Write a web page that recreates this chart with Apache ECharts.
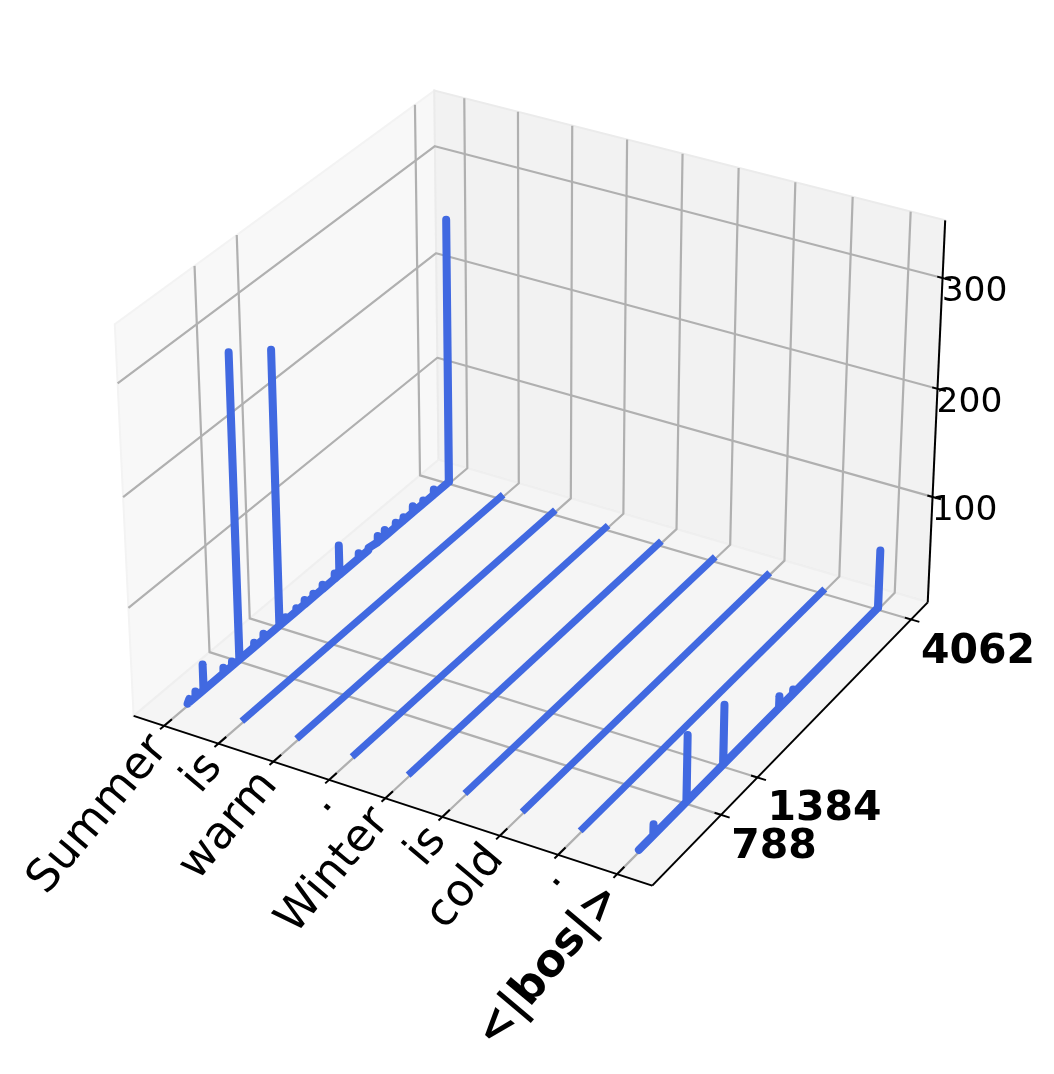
<!DOCTYPE html>
<html>
<head>
<meta charset="utf-8">
<style>html,body{margin:0;padding:0;background:#fff}#c{width:1054px;height:1074px}</style>
<script src="https://cdn.jsdelivr.net/npm/echarts@6/dist/echarts.min.js"></script>
</head>
<body>
<div id="c"></div>
<script>
// ---- data ----
const tokens = ['Summer','is','warm','.','Winter','is','cold','.','<|bos|>'];
const boldTokens = [8];
const yTicks = [788, 1384, 4062];
const zTicks = [100, 200, 300];
const baseZ = 2;
const yStart = 35, yEnd = 4062, yEndFlat = 4105;
const peaksSummer = [[60,5],[150,7],[265,26],[555,7],[680,6],[788,283],[1007,6],[1146,7],[1384,257],[1478,5],[1640,5],[1767,6],[1900,5],[2043,6],[2230,7],[2303,30],[2606,7],[2760,4],[2907,8],[3019,8],[3195,6],[3320,5],[3471,8],[3640,5],[3814,7],[4062,252.5]];
const peaksBos = [[262,12],[788,63],[1384,57],[2320,13],[2559,6],[4062,56.5]];
const peaksByRow = [peaksSummer,[],[],[],[],[],[],[],peaksBos];

// ---- axes limits of the 3D box ----
const xLim = [-0.564, 8.59], yLim = [-302, 4369], zLim = [0, 351];

// ---- view (elev 30, azim -60, box aspect 4:4:3, distance 10) ----
const A = 0.5953, C = 0.4464, DIST = 10;
const U = [0.8660254, 0.5, 0], V = [-0.25, 0.4330127, 0.8660254], N = [0.4330127, -0.75, 0.5];
function proj(x, y, z) {
  const bx = -A + 2*A*(x-xLim[0])/(xLim[1]-xLim[0]);
  const by = -A + 2*A*(y-yLim[0])/(yLim[1]-yLim[0]);
  const bz = -C + 2*C*(z-zLim[0])/(zLim[1]-zLim[0]);
  const d = DIST - (N[0]*bx+N[1]*by+N[2]*bz);
  return [(U[0]*bx+U[1]*by)/d, (V[0]*bx+V[1]*by+V[2]*bz)/d];
}
// axis window of the projected plane
const W = 1054, H = 1074, SX = 4990, SY = 5000, OX = 538, OY = 469;
const xAxisRange = [(0-OX)/SX, (W-OX)/SX], yAxisRange = [(OY-H)/SY, OY/SY];

const [x0,x1] = xLim, [y0,y1] = yLim, [z0,z1] = zLim;
const series = [];

// panes
const panes = [
  {fill:'#f8f8f8', edge:'#f3f3f3', pts:[[x0,y0,z0],[x0,y1,z0],[x0,y1,z1],[x0,y0,z1]]},
  {fill:'#f2f2f2', edge:'#ebebeb', pts:[[x0,y1,z0],[x1,y1,z0],[x1,y1,z1],[x0,y1,z1]]},
  {fill:'#f5f5f5', edge:'#efefef', pts:[[x0,y0,z0],[x1,y0,z0],[x1,y1,z0],[x0,y1,z0]]}
];
series.push({
  type:'custom', silent:true, clip:false, z:1, coordinateSystem:'cartesian2d',
  data: panes.map((p,i)=>[i]),
  renderItem(params, api){
    const p = panes[api.value(0)];
    return {type:'polygon', shape:{points:p.pts.map(q=>api.coord(proj(q[0],q[1],q[2])))},
      style:{fill:p.fill, stroke:p.edge, lineWidth:2}};
  }
});

function addLine(pts, color, width, z, cap, join){
  series.push({type:'line', silent:true, clip:false, z, showSymbol:false, symbol:'none', animation:false,
    data: pts.map(q=>proj(q[0],q[1],q[2])),
    lineStyle:{color, width, cap:cap||'butt', join:join||'round'}});
}

const GRID='#b0b0b0', GW=2.2, BLACK='#000', TW=2;
tokens.forEach((t,i)=> addLine([[i,y0,z0],[i,y1,z0],[i,y1,z1]],GRID,GW,2));
yTicks.forEach(y=> addLine([[x1,y,z0],[x0,y,z0],[x0,y,z1]],GRID,GW,2));
zTicks.forEach(z=> addLine([[x0,y0,z],[x0,y1,z],[x1,y1,z]],GRID,GW,2));

// axis lines
addLine([[x0,y0,z0],[x1,y0,z0]],BLACK,TW,3);
addLine([[x1,y0,z0],[x1,y1,z0]],BLACK,TW,3);
addLine([[x1,y1,z0],[x1,y1,z1]],BLACK,TW,3);

// ticks
const dyT=(y1-y0), dxT=(x1-x0);
tokens.forEach((t,i)=> addLine([[i,y0-dyT*0.012,z0],[i,y0+dyT*0.024,z0]],BLACK,TW,3));
yTicks.forEach(y=> addLine([[x1-dxT*0.012,y,z0],[x1+dxT*0.016,y,z0]],BLACK,TW,3));
zTicks.forEach(z=> addLine([[x1-dxT*0.01,y1,z],[x1+dxT*0.016,y1,z]],BLACK,TW,3));

// data rows
peaksByRow.forEach((peaks,i)=>{
  const pts=[[i,yStart,baseZ]];
  peaks.forEach(([y,z])=>{ pts.push([i,y-2,baseZ],[i,y,z],[i,y+2,baseZ]); });
  if(!peaks.length) pts.push([i,yEndFlat,baseZ]);
  const strong=(i===0||i===8);
  addLine(pts.filter(q=>q[1]<=yEndFlat),'#4169E1',strong?8:7,5,strong?'round':'butt','round');
});

// tick labels
const FONT='"DejaVu Sans"';
const texts=[];
tokens.forEach((t,i)=>texts.push({kind:'x',i,t}));
yTicks.forEach((y,i)=>texts.push({kind:'y',y,t:String(y)}));
zTicks.forEach((z,i)=>texts.push({kind:'z',z,t:String(z)}));
const yLabelOffset=[[53,32],[67,32],[67,33]];
series.push({
  type:'custom', silent:true, clip:false, z:6, coordinateSystem:'cartesian2d',
  data: texts.map((t,i)=>[i]),
  renderItem(params, api){
    const idx=api.value(0), d=texts[idx];
    if(d.kind==='x'){
      const c=api.coord(proj(d.i,y0,z0));
      return {type:'text', x:c[0]-4, y:c[1]+16, rotation:50*Math.PI/180, originX:0, originY:0,
        style:{text:d.t, align:'right', verticalAlign:'middle', fill:'#000',
          font:(boldTokens.includes(d.i)?'bold ':'')+'45px '+FONT}};
    }
    if(d.kind==='y'){
      const c=api.coord(proj(x1,d.y,z0));
      const o=yLabelOffset[yTicks.indexOf(d.y)];
      return {type:'text', x:c[0]+o[0], y:c[1]+o[1],
        style:{text:d.t, align:'center', verticalAlign:'middle', fill:'#000', font:'bold 41px '+FONT}};
    }
    const c=api.coord(proj(x1,y1,d.z));
    return {type:'text', x:c[0]+32, y:c[1]+14,
      style:{text:d.t, align:'center', verticalAlign:'middle', fill:'#000', font:'34.5px '+FONT}};
  }
});

const chart=echarts.init(document.getElementById('c'),null,{renderer:'canvas',width:W,height:H});
chart.setOption({
  animation:false,
  backgroundColor:'#fff',
  grid:{left:0,right:0,top:0,bottom:0,containLabel:false},
  xAxis:{type:'value',min:xAxisRange[0],max:xAxisRange[1],show:false,scale:true},
  yAxis:{type:'value',min:yAxisRange[0],max:yAxisRange[1],show:false,scale:true},
  series
});
</script>
</body>
</html>
